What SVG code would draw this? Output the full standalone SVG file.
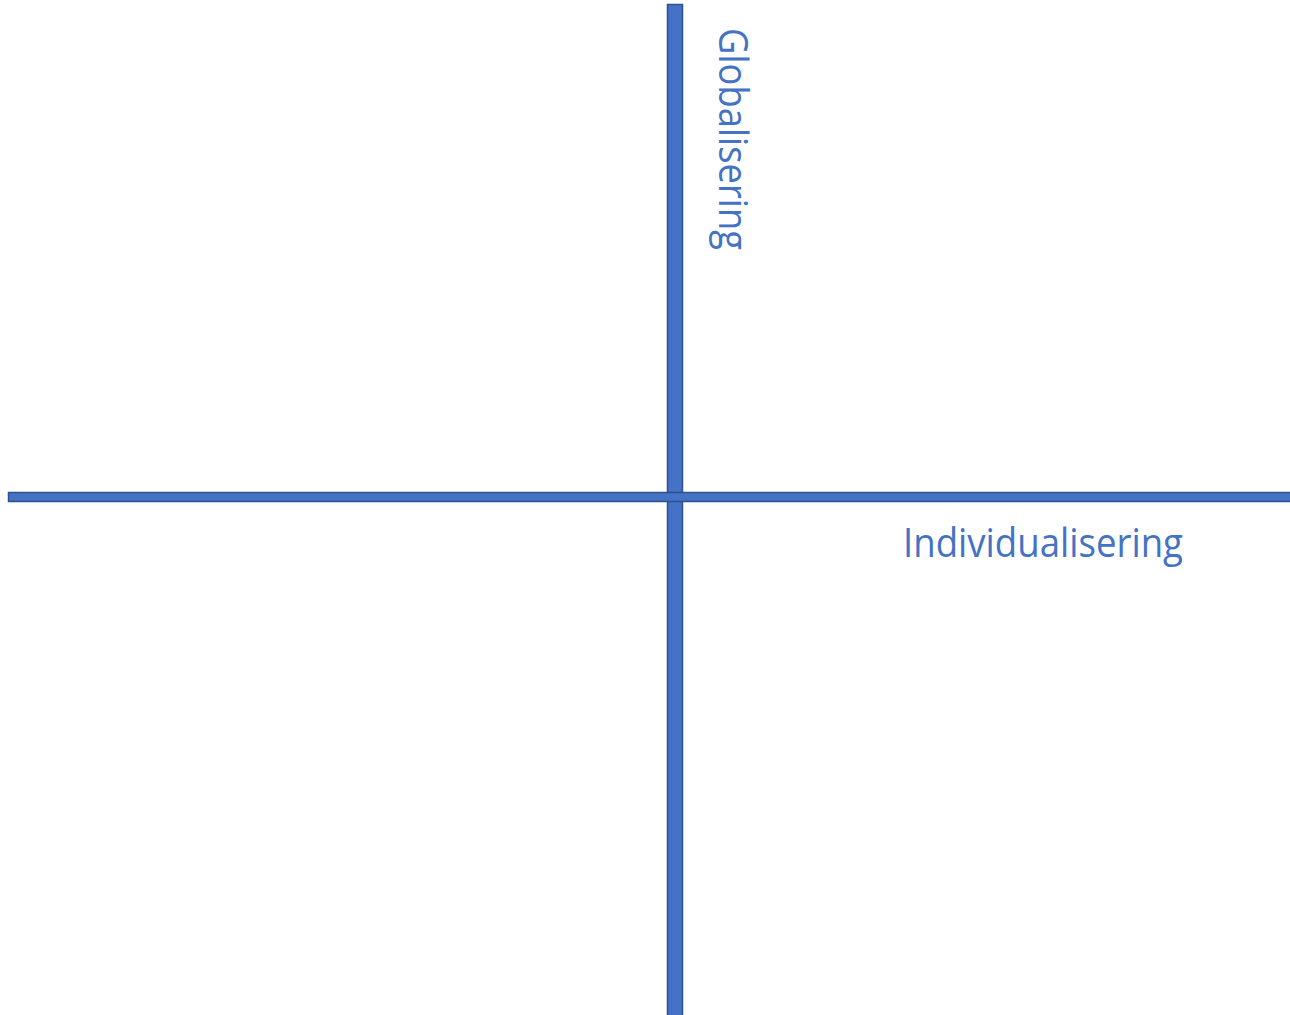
<svg xmlns="http://www.w3.org/2000/svg" width="1290" height="1015" viewBox="0 0 1290 1015">
<style>
.axis{fill:#4472C4;stroke:#2F528F;stroke-width:1.5}
.lbl{fill:#4472C4;font-family:"Open Sans","Liberation Sans",sans-serif;font-size:40px}
</style>
<rect width="1290" height="1015" fill="#FFFFFF"/>
<g id="connectors">
<rect class="axis" x="667.5" y="4.5" width="15" height="1012"/>
<rect class="axis" x="8.5" y="492.5" width="1283" height="9"/>
</g>
<g id="globalisering">
<text class="lbl" transform="translate(719,28) rotate(90)" x="0" y="0" textLength="222" lengthAdjust="spacingAndGlyphs">Globalisering</text>
</g>
<g id="individualisering">
<text class="lbl" x="903" y="557" textLength="280" lengthAdjust="spacingAndGlyphs">Individualisering</text>
</g>
</svg>
